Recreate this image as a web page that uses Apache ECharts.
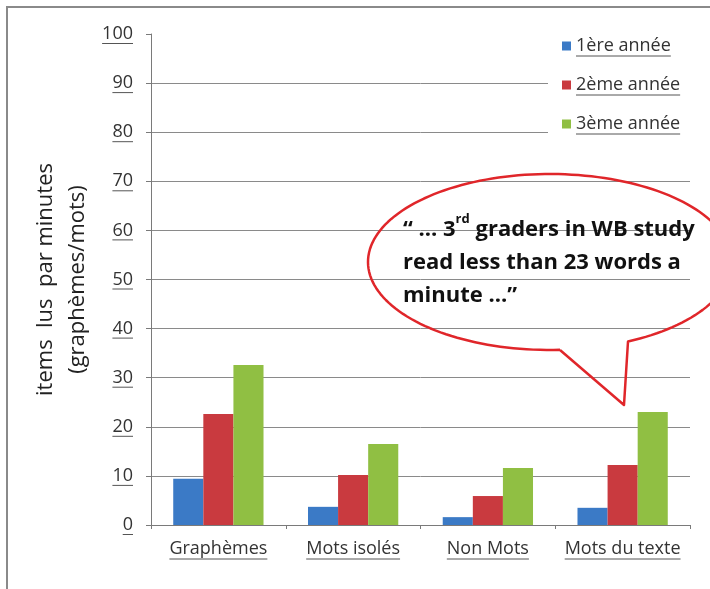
<!DOCTYPE html>
<html>
<head>
<meta charset="utf-8">
<script src="https://cdn.jsdelivr.net/npm/echarts@6/dist/echarts.min.js"></script>
<style>
html,body{margin:0;padding:0;background:#fff;}
#chart{width:710px;height:589px;}
</style>
</head>
<body>
<div id="chart"></div>
<script>
const categories = ['Graphèmes', 'Mots isolés', 'Non Mots', 'Mots du texte'];
const seriesNames = ['1ère année', '2ème année', '3ème année'];
const annee1 = [9.4, 3.7, 1.6, 3.5];
const annee2 = [22.6, 10.2, 5.9, 12.2];
const annee3 = [32.6, 16.5, 11.6, 23.0];
const yMin = 0, yMax = 100, yStep = 10;
const yTitle = 'items  lus  par minutes\n(graphèmes/mots)';
const bubbleLines = ['“ ... 3{sup|rd} graders in WB study', 'read less than 23 words a', 'minute ...”'];

const colors = ['#3b7ac6', '#c93a3f', '#90bf43'];
const FONT = '"Open Sans", "DejaVu Sans", sans-serif';
const labelColor = '#333333';
const TICK_FS = 18, CAT_FS = 18, LEG_FS = 18;

const chart = echarts.init(document.getElementById('chart'), null, {renderer: 'canvas'});

const gridColors = [];
for (let v = yMin; v <= yMax; v += yStep) gridColors.push(v === yMax ? 'rgba(0,0,0,0)' : '#8a8a8a');

const seriesData = [annee1, annee2, annee3];
const legTop = 30, legPadTop = 7, legPadLeft = 14, legLeft = 548, legGap = 21, legIcon = 9;

const option = {
  backgroundColor: '#ffffff',
  animation: false,
  color: colors,
  grid: {left: 151, right: 20, top: 34, bottom: 64, containLabel: false},
  legend: {
    orient: 'vertical',
    left: legLeft, top: legTop,
    padding: [legPadTop, 30, 7, legPadLeft],
    backgroundColor: '#ffffff',
    itemWidth: legIcon, itemHeight: legIcon, itemGap: legGap,
    icon: 'rect',
    textStyle: {fontFamily: FONT, fontSize: LEG_FS, color: labelColor},
    data: seriesNames
  },
  xAxis: {
    type: 'category',
    data: categories,
    axisLine: {lineStyle: {color: '#7a7a7a', width: 1}},
    axisTick: {show: true, length: 4, lineStyle: {color: '#7a7a7a'}},
    axisLabel: {fontFamily: FONT, fontSize: CAT_FS, color: labelColor, margin: 15, interval: 0, hideOverlap: false}
  },
  yAxis: {
    type: 'value',
    min: yMin, max: yMax, interval: yStep,
    name: yTitle,
    nameLocation: 'middle',
    nameRotate: 90,
    nameGap: 57,
    nameMoveOverlap: false,
    nameTextStyle: {fontFamily: FONT, fontSize: 22, color: '#222', lineHeight: 32},
    axisLine: {show: true, lineStyle: {color: '#7a7a7a', width: 1}},
    axisTick: {show: true, length: 5, lineStyle: {color: '#7a7a7a'}},
    axisLabel: {fontFamily: FONT, fontSize: TICK_FS, color: labelColor, margin: 18},
    splitLine: {show: true, lineStyle: {color: gridColors, width: 1}}
  },
  series: seriesNames.map((n, i) => ({
    name: n,
    type: 'bar',
    data: seriesData[i],
    barGap: '0%',
    barCategoryGap: '33%',
    itemStyle: {color: colors[i]}
  }))
};
chart.setOption(option);

// decorations: underlines computed from axis positions + measured text
const ctx = document.createElement('canvas').getContext('2d');
function textW(str, size, weight) {
  ctx.font = (weight || 'normal') + ' ' + size + 'px ' + FONT;
  return ctx.measureText(str).width;
}
const elements = [];
const ulStyle = {stroke: '#555', lineWidth: 1};
// x axis labels
const x0 = chart.convertToPixel({yAxisIndex: 0}, 0);
categories.forEach(c => {
  const cx = chart.convertToPixel({xAxisIndex: 0}, c);
  const w = textW(c, CAT_FS);
  const y = x0 + 15 + CAT_FS / 2 + 10;
  elements.push({type: 'line', z: 200, shape: {x1: cx - w / 2, y1: y, x2: cx + w / 2, y2: y}, style: ulStyle, silent: true});
});
// y axis labels
const axisX = 151;
for (let v = yMin; v <= yMax; v += yStep) {
  const py = chart.convertToPixel({yAxisIndex: 0}, v);
  const w = textW(String(v), TICK_FS);
  const right = axisX - 18;
  elements.push({type: 'line', z: 200, shape: {x1: right - w, y1: py + 9.5, x2: right, y2: py + 9.5}, style: ulStyle, silent: true});
}
// legend labels
seriesNames.forEach((n, i) => {
  const w = textW(n, LEG_FS);
  const lx = legLeft + legPadLeft + legIcon + 5;
  const itemH = LEG_FS;
  const cy = legTop + legPadTop + i * (itemH + legGap) + itemH / 2;
  elements.push({type: 'line', z: 200, shape: {x1: lx, y1: cy + 10, x2: lx + w, y2: cy + 10}, style: ulStyle, silent: true});
});
// outer frame
elements.push({type: 'rect', shape: {x: 7, y: 7, width: 740, height: 620}, style: {fill: 'none', stroke: '#8a8a8a', lineWidth: 2}, silent: true, z: 100});
// speech bubble (ellipse arc + tail)
const ecx = 550, ecy = 262, erx = 182, ery = 88;
const a0 = Math.atan2((341.5 - ecy) / ery, (628 - ecx) / erx);
const a1 = Math.atan2((350 - ecy) / ery, (560 - ecx) / erx) - 2 * Math.PI;
const pts = [[560, 350], [624, 405]];
const N = 160;
for (let k = 0; k <= N; k++) {
  const a = a0 + (a1 - a0) * k / N;
  pts.push([ecx + erx * Math.cos(a), ecy + ery * Math.sin(a)]);
}
elements.push({
  type: 'polyline', z: 100, silent: true,
  shape: {points: pts},
  style: {fill: 'none', stroke: '#e0262a', lineWidth: 2.5, lineJoin: 'round'}
});
elements.push({
  type: 'text', z: 101, silent: true,
  left: 403, top: 213,
  style: {
    text: bubbleLines.join('\n'),
    fontFamily: FONT, fontWeight: 'bold', fontSize: 22, lineHeight: 33, fill: '#111',
    rich: {sup: {fontFamily: FONT, fontWeight: 'bold', fontSize: 13, fill: '#111', verticalAlign: 'top', padding: [0, 0, 12, 0]}}
  }
});
chart.setOption({graphic: {elements: elements}});
</script>
</body>
</html>
